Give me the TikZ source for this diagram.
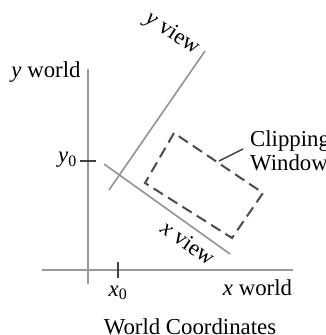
\documentclass[tikz,border=0pt]{standalone}
\usepackage{fontspec}
\setmainfont{Liberation Serif}
\usetikzlibrary{positioning}

\begin{document}
\begin{tikzpicture}[x=1pt,y=1pt,font=\fontsize{22.8}{23.5}\selectfont,
 axis/.style={line width=2pt,gray!80},
 viewaxis/.style={line width=1.6pt,gray!85},
 clipwin/.style={line width=2pt,black!70,dash pattern=on 11pt off 6pt},
 lbl/.style={inner sep=0pt}]
\useasboundingbox (0,0) rectangle (326,335);
% world axes
\coordinate (yw0) at (88,51); \coordinate (yw1) at (88,266);
\coordinate (xw0) at (42,65); \coordinate (xw1) at (293,65);
\draw[axis] (yw0) -- (yw1);
\draw[axis] (xw0) -- (xw1);
\node[lbl] (ywl) at (46,263) {\textit{y} world};
\node[lbl] (xwl) at (257.5,47) {\textit{x} world};
% origin ticks
\draw[line width=1.6pt,black!75] (118,57) coordinate (xt0) -- (118,73) coordinate (xt1);
\draw[line width=1.6pt,black!75] (80,174) coordinate (yt0) -- (96,174) coordinate (yt1);
\node[lbl] (x0l) at (118,42) {\textit{x}\textsubscript{0}};
\node[lbl,anchor=east] (y0l) at (77,175) {\textit{y}\textsubscript{0}};
% viewing axes
\coordinate (yv0) at (109,145); \coordinate (yv1) at (205,284);
\coordinate (xv0) at (104,171); \coordinate (xv1) at (230,81);
\draw[viewaxis] (yv0) -- (yv1);
\draw[viewaxis] (xv0) -- (xv1);
\node[lbl,rotate=-33] (yvl) at (172,301) {\textit{y} view};
\node[lbl,rotate=-35] (xvl) at (188,92) {\textit{x} view};
% clipping window
\coordinate (c1) at (174,202); \coordinate (c2) at (145,152);
\coordinate (c3) at (232,97); \coordinate (c4) at (263,142);
\draw[clipwin] (c1) -- (c2) -- (c3) -- (c4) -- cycle;
\node[lbl,anchor=west,align=left] (cwl) at (250,184) {Clipping\\Window};
\coordinate (lead0) at (219,174); \coordinate (lead1) at (243,186);
\draw[line width=1.4pt,black!75] (lead0) -- (lead1);
\node[lbl] (title) at (190,8) {World Coordinates};
\end{tikzpicture}
\end{document}
